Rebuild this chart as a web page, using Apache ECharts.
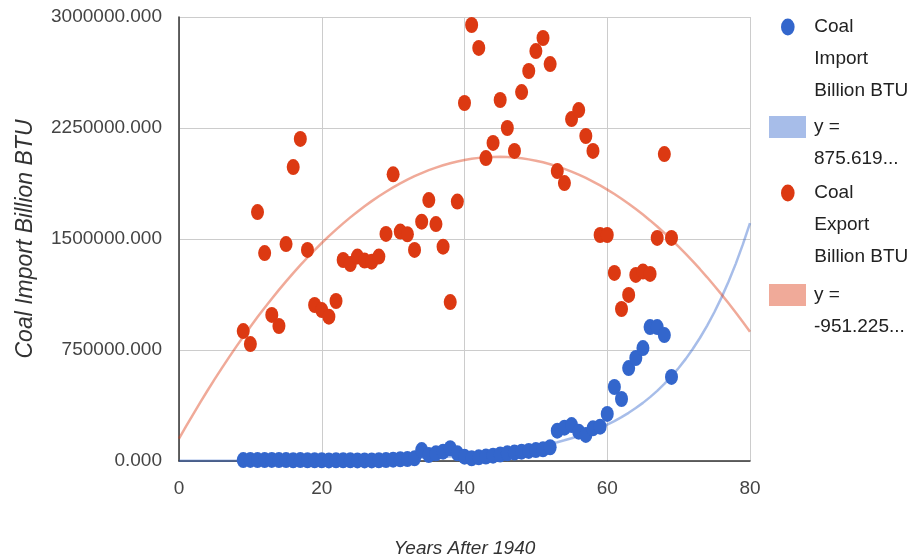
<!DOCTYPE html>
<html>
<head>
<meta charset="utf-8">
<script src="https://cdn.jsdelivr.net/npm/echarts@6/dist/echarts.min.js"></script>
<style>
html, body { margin: 0; padding: 0; background: #fff; }
#chart { width: 914px; height: 560px; }
</style>
</head>
<body>
<div id="chart"></div>
<script>
// years after 1940
var years = [9, 10, 11, 12, 13, 14, 15, 16, 17, 18, 19, 20, 21, 22, 23, 24, 25, 26, 27, 28, 29,
    30, 31, 32, 33, 34, 35, 36, 37, 38, 39, 40, 41, 42, 43, 44, 45, 46, 47, 48, 49,
    50, 51, 52, 53, 54, 55, 56, 57, 58, 59, 60, 61, 62, 63, 64, 65, 66, 67, 68, 69];
// coal import, billion BTU
var importValues = [6000, 7000, 6000, 6000, 7000, 6000, 6000, 5000, 6000, 5000, 5000, 5000, 4000, 5000, 5000, 5000, 4000, 4000, 4000, 5000, 6000,
    9000, 12000, 13000, 18000, 74000, 40000, 52000, 63000, 86000, 52000, 29000, 18000, 25000, 30000, 36000, 44000, 52000, 57000, 63000, 68000,
    74000, 79000, 93000, 205000, 225000, 243000, 198000, 176000, 221000, 232000, 318000, 500000, 419000, 628000, 696000, 763000, 905000, 905000, 851000, 568000];
// coal export, billion BTU
var exportValues = [878000, 790000, 1682000, 1405000, 987000, 912000, 1466000, 1986000, 2176000, 1426000, 1054000, 1020000, 975000, 1081000, 1358000, 1331000, 1381000, 1354000, 1347000, 1381000, 1534000,
    1937000, 1550000, 1532000, 1426000, 1617000, 1763000, 1601000, 1448000, 1074000, 1753000, 2419000, 2946000, 2791000, 2047000, 2149000, 2439000, 2250000, 2095000, 2493000, 2635000,
    2770000, 2858000, 2682000, 1959000, 1878000, 2310000, 2371000, 2196000, 2095000, 1527000, 1527000, 1271000, 1027000, 1122000, 1257000, 1280000, 1264000, 1507000, 2074000, 1507000];
// trendlines: import y = a*e^(b*x), export y = a*x^2 + b*x + c
var importTrendCoef = [875.619, 0.09394];
var exportTrendCoef = [-951.225, 85122, 151000];
var xTicks = [0, 20, 40, 60, 80];
var yTicks = [0, 750000, 1500000, 2250000, 3000000];

var importName = 'Coal Import Billion BTU';
var exportName = 'Coal Export Billion BTU';
var importTrendName = 'y = 875.619...';
var exportTrendName = 'y = -951.225...';
// leading blank lines keep the icon level with the first line
var legendLabels = {};
legendLabels[importName] = '\n\nCoal\nImport\nBillion BTU';
legendLabels[exportName] = '\n\nCoal\nExport\nBillion BTU';
legendLabels[importTrendName] = '\ny =\n875.619...';
legendLabels[exportTrendName] = '\ny =\n-951.225...';

var FONT = "'Liberation Sans', Arial, sans-serif";
var FS = 19;

var importData = [], exportData = [], importTrend = [], exportTrend = [];
for (var i = 0; i < years.length; i++) {
    importData.push([years[i], importValues[i]]);
    exportData.push([years[i], exportValues[i]]);
}
for (var x = xTicks[0]; x <= xTicks[xTicks.length - 1]; x += 1) {
    importTrend.push([x, importTrendCoef[0] * Math.exp(importTrendCoef[1] * x)]);
    exportTrend.push([x, exportTrendCoef[0] * x * x + exportTrendCoef[1] * x + exportTrendCoef[2]]);
}

var BLUE = '#3366cc', RED = '#dc3912';
var BLUE_T = 'rgba(51,102,204,0.43)', RED_T = 'rgba(220,57,18,0.43)';
var dot = 'path://M40,0 A40,50 0 1,1 40,100 A40,50 0 1,1 40,0 Z';

function legendFor(name, icon, color, iconY, lines) {
    var isRect = icon === 'rect';
    return {
        data: [{name: name, icon: icon, itemStyle: {color: color}}],
        left: isRect ? 764 : 776,
        top: iconY - 5 - (lines * 2 - 1) * 16,
        orient: 'vertical',
        itemWidth: 37,
        itemHeight: isRect ? 22 : 17,
        selectedMode: false,
        formatter: function (n) { return legendLabels[n]; },
        textStyle: {
            fontFamily: FONT,
            fontSize: FS,
            lineHeight: 32,
            color: '#222',
            padding: [0, 0, 0, 3]
        }
    };
}

var myChart = echarts.init(document.getElementById('chart'));
var option = {
    animation: false,
    grid: {left: 179, right: 164, top: 17, bottom: 99, containLabel: false, outerBoundsMode: 'none'},
    legend: [
        legendFor(importName, dot, BLUE, 27, 3),
        legendFor(importTrendName, 'rect', BLUE_T, 127, 2),
        legendFor(exportName, dot, RED, 193, 3),
        legendFor(exportTrendName, 'rect', RED_T, 295, 2)
    ],
    xAxis: {
        type: 'value',
        min: xTicks[0],
        max: xTicks[xTicks.length - 1],
        interval: xTicks[1] - xTicks[0],
        name: 'Years After 1940',
        nameLocation: 'middle',
        nameGap: 78,
        nameTextStyle: {fontFamily: FONT, fontSize: FS, fontStyle: 'italic', color: '#333'},
        axisLine: {show: true, onZero: false, lineStyle: {color: '#333', width: 1.5}},
        axisTick: {show: false},
        axisLabel: {fontFamily: FONT, fontSize: FS, color: '#444', margin: 18},
        splitLine: {show: true, lineStyle: {color: '#ccc', width: 1}}
    },
    yAxis: {
        type: 'value',
        min: yTicks[0],
        max: yTicks[yTicks.length - 1],
        interval: yTicks[1] - yTicks[0],
        name: 'Coal Import Billion BTU',
        nameLocation: 'middle',
        nameGap: 142,
        nameTextStyle: {fontFamily: FONT, fontSize: 23, fontStyle: 'italic', color: '#333'},
        axisLine: {show: true, lineStyle: {color: '#333', width: 1.5}},
        axisTick: {show: false},
        axisLabel: {
            fontFamily: FONT, fontSize: FS, color: '#444', margin: 17,
            formatter: function (v) { return v.toFixed(3); }
        },
        splitLine: {show: true, lineStyle: {color: '#ccc', width: 1}}
    },
    series: [
        {
            name: importName,
            type: 'scatter',
            data: importData,
            symbol: dot,
            symbolSize: [13, 16],
            itemStyle: {color: BLUE, opacity: 1},
            emphasis: {disabled: true},
            z: 3
        },
        {
            name: importTrendName,
            type: 'line',
            data: importTrend,
            showSymbol: false,
            itemStyle: {color: BLUE_T},
            lineStyle: {color: BLUE_T, width: 2.5},
            emphasis: {disabled: true},
            z: 2
        },
        {
            name: exportName,
            type: 'scatter',
            data: exportData,
            symbol: dot,
            symbolSize: [13, 16],
            itemStyle: {color: RED, opacity: 1},
            emphasis: {disabled: true},
            z: 3
        },
        {
            name: exportTrendName,
            type: 'line',
            data: exportTrend,
            showSymbol: false,
            itemStyle: {color: RED_T},
            lineStyle: {color: RED_T, width: 2.5},
            emphasis: {disabled: true},
            z: 2
        }
    ]
};
myChart.setOption(option);
</script>
</body>
</html>
